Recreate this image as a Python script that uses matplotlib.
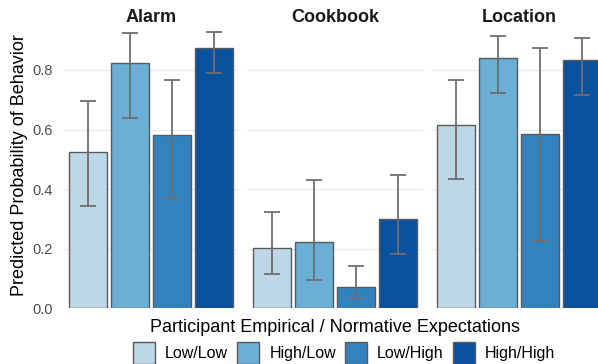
import matplotlib
matplotlib.use("Agg")
import matplotlib.pyplot as plt
from matplotlib.patches import Patch

plt.rcParams['font.family'] = ['Liberation Sans', 'DejaVu Sans']

panels = ["Alarm", "Cookbook", "Location"]
groups = ["Low/Low", "High/Low", "Low/High", "High/High"]
colors = ["#bdd7e7", "#6baed6", "#3182bd", "#08519c"]

# predicted probability and interval, per panel, in group order
means = {
    "Alarm":    [0.523, 0.822, 0.581, 0.872],
    "Cookbook": [0.201, 0.221, 0.073, 0.299],
    "Location": [0.614, 0.840, 0.586, 0.832],
}
lower = {
    "Alarm":    [0.344, 0.638, 0.367, 0.790],
    "Cookbook": [0.115, 0.095, 0.036, 0.183],
    "Location": [0.434, 0.724, 0.227, 0.717],
}
upper = {
    "Alarm":    [0.697, 0.924, 0.767, 0.926],
    "Cookbook": [0.324, 0.430, 0.141, 0.447],
    "Location": [0.767, 0.915, 0.873, 0.906],
}

W, H = 598, 364
fig = plt.figure(figsize=(W / 100, H / 100), dpi=100)

ymax = 0.96
px_per_unit = 298
bottom_px = 308.3
ax_h = ymax * px_per_unit
panel_w = 176.4
panel_left = [62.7, 246.7, 430.7]

axes = []
for i, name in enumerate(panels):
    ax = fig.add_axes([panel_left[i] / W, (H - bottom_px) / H, panel_w / W, ax_h / H])
    x = range(len(groups))
    m = means[name]
    lo = [m[j] - lower[name][j] for j in x]
    hi = [upper[name][j] - m[j] for j in x]
    ax.bar(x, m, width=0.893, color=colors, edgecolor="#5a5a5a", linewidth=1.0, zorder=2)
    ax.errorbar(x, m, yerr=[lo, hi], fmt="none", ecolor="#6e6e6e", elinewidth=1.3,
                capsize=5.8, capthick=1.3, zorder=3)
    ax.set_xlim(-0.6, 3.6)
    ax.set_ylim(0, ymax)
    ax.set_yticks([0.0, 0.2, 0.4, 0.6, 0.8])
    ax.set_xticks([])
    ax.grid(axis="y", color="#ebebeb", linewidth=1.0, zorder=0)
    ax.set_axisbelow(True)
    for s in ax.spines.values():
        s.set_visible(False)
    ax.tick_params(axis="y", length=0, pad=7, labelsize=10.5, labelcolor="#4d4d4d")
    if i > 0:
        ax.tick_params(axis="y", labelleft=False)
    fig.text((panel_left[i] + panel_w / 2) / W, (H - 18) / H, name, ha="center", va="center",
             fontsize=13, fontweight="bold", color="#1a1a1a")
    axes.append(ax)

axes[0].set_ylabel("Predicted Probability of Behavior", fontsize=13)
axes[0].yaxis.set_label_coords((20 - 62.7) / panel_w, 0.5)
axes[0].yaxis.label.set_va("center")

fig.text(335 / W, (H - 327) / H, "Participant Empirical / Normative Expectations",
         ha="center", va="center", fontsize=13)

handles = [Patch(facecolor=c, edgecolor="#5a5a5a", linewidth=1.0, label=g) for c, g in zip(colors, groups)]
fig.legend(handles=handles, loc="upper center", bbox_to_anchor=(344 / W, (H - 342) / H),
           ncol=4, frameon=False, fontsize=11.5, handlelength=1.38, handleheight=1.75,
           handletextpad=0.63, columnspacing=0.56, borderpad=0, borderaxespad=0)

fig.savefig("out.png", dpi=100)
